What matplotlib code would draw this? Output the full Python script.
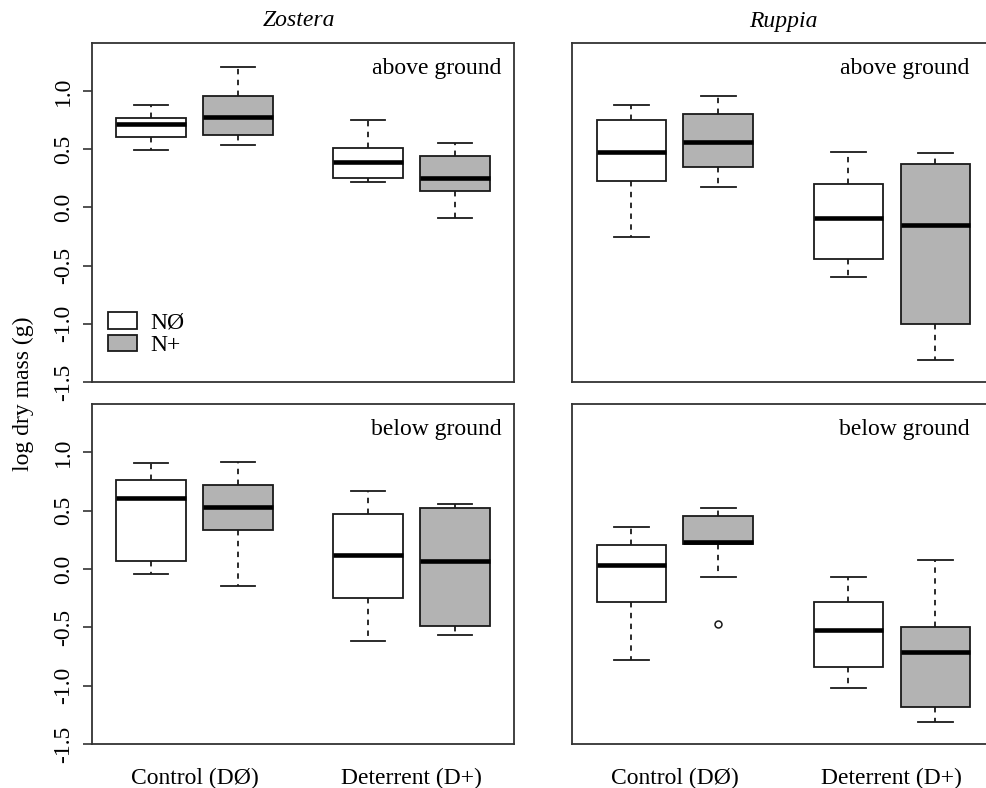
"""Zostera / Ruppia dry mass boxplots, N and deterrent treatments."""
import matplotlib

matplotlib.use("Agg")
import matplotlib.pyplot as plt
from matplotlib.patches import Patch

plt.rcParams["font.family"] = ["Liberation Serif", "DejaVu Serif"]
plt.rcParams["axes.unicode_minus"] = False

# box order: Control NØ, Control N+, Deterrent NØ, Deterrent N+
POSITIONS = [1, 2, 3.5, 4.5]
FILLS = ["white", "#b3b3b3", "white", "#b3b3b3"]
GROUPS = ["Control (DØ)", "Deterrent (D+)"]
GROUP_AT = [1.5, 4.0]
Y_TICKS = [-1.5, -1.0, -0.5, 0.0, 0.5, 1.0]

# Zostera, above ground
za_lo = [0.49, 0.54, 0.22, -0.09]
za_q1 = [0.61, 0.62, 0.25, 0.14]
za_med = [0.72, 0.78, 0.39, 0.25]
za_q3 = [0.77, 0.96, 0.51, 0.445]
za_hi = [0.88, 1.21, 0.75, 0.555]
za_out = [[], [], [], []]

# Ruppia, above ground
ra_lo = [-0.25, 0.175, -0.60, -1.31]
ra_q1 = [0.23, 0.35, -0.44, -1.0]
ra_med = [0.48, 0.565, -0.09, -0.15]
ra_q3 = [0.75, 0.805, 0.205, 0.37]
ra_hi = [0.88, 0.96, 0.475, 0.465]
ra_out = [[], [], [], []]

# Zostera, below ground
zb_lo = [-0.045, -0.15, -0.62, -0.565]
zb_q1 = [0.065, 0.335, -0.25, -0.49]
zb_med = [0.61, 0.535, 0.12, 0.065]
zb_q3 = [0.765, 0.72, 0.47, 0.525]
zb_hi = [0.905, 0.915, 0.665, 0.555]
zb_out = [[], [], [], []]

# Ruppia, below ground
rb_lo = [-0.78, -0.065, -1.02, -1.31]
rb_q1 = [-0.28, 0.21, -0.84, -1.185]
rb_med = [0.035, 0.235, -0.52, -0.71]
rb_q3 = [0.205, 0.455, -0.28, -0.50]
rb_hi = [0.36, 0.52, -0.065, 0.075]
rb_out = [[], [-0.47], [], []]

LINE = "#1a1a1a"


def make_stats(lo, q1, med, q3, hi, out):
    return [
        dict(whislo=a, q1=b, med=c, q3=d, whishi=e, fliers=f)
        for a, b, c, d, e, f in zip(lo, q1, med, q3, hi, out)
    ]


def draw_panel(ax, stats, tag, tag_x, left_axis, bottom_axis):
    parts = ax.bxp(
        stats, positions=POSITIONS, widths=0.8, capwidths=0.4,
        patch_artist=True, showfliers=True,
        boxprops=dict(edgecolor=LINE, linewidth=1.3),
        medianprops=dict(color="black", linewidth=3.3, solid_capstyle="butt"),
        whiskerprops=dict(color=LINE, linewidth=1.3, linestyle=(0, (3, 3))),
        capprops=dict(color=LINE, linewidth=1.3),
        flierprops=dict(marker="o", markersize=5, markerfacecolor="none",
                        markeredgecolor=LINE, markeredgewidth=1.1),
    )
    for box, fill in zip(parts["boxes"], FILLS):
        box.set_facecolor(fill)

    ax.set_xlim(0.32, 5.18)
    ax.set_ylim(-1.5, 1.414)
    for sp in ax.spines.values():
        sp.set_color("#333333")
        sp.set_linewidth(1.3)

    ax.text(tag_x, 0.926, tag, transform=ax.transAxes, ha="right",
            va="center", fontsize=17)

    if left_axis:
        ax.set_yticks(Y_TICKS)
        ax.set_yticklabels([f"{v:.1f}" for v in Y_TICKS], rotation=90,
                           va="center")
        ax.tick_params(axis="y", length=6.5, width=1.2, pad=6.5,
                       labelsize=17, color="#333333")
    else:
        ax.set_yticks([])

    if bottom_axis:
        ax.set_xticks(GROUP_AT)
        ax.set_xticklabels(GROUPS)
        ax.tick_params(axis="x", length=0, pad=17, labelsize=17)
    else:
        ax.set_xticks([])


fig = plt.figure(figsize=(9.87, 7.88), dpi=100)
W, H = 987, 788


def add_axes(left, top, width, height):
    return fig.add_axes([left / W, 1 - (top + height) / H, width / W, height / H])


ax_za = add_axes(92, 43, 422, 339)
ax_ra = add_axes(572.3, 43, 422, 339)
ax_zb = add_axes(92, 404, 422, 340)
ax_rb = add_axes(572.3, 404, 422, 340)

draw_panel(ax_za, make_stats(za_lo, za_q1, za_med, za_q3, za_hi, za_out),
           "above ground", 0.971, True, False)
draw_panel(ax_ra, make_stats(ra_lo, ra_q1, ra_med, ra_q3, ra_hi, ra_out),
           "above ground", 0.942, False, False)
draw_panel(ax_zb, make_stats(zb_lo, zb_q1, zb_med, zb_q3, zb_hi, zb_out),
           "below ground", 0.971, True, True)
draw_panel(ax_rb, make_stats(rb_lo, rb_q1, rb_med, rb_q3, rb_hi, rb_out),
           "below ground", 0.942, False, True)

ax_za.text(0.49, 1 + 22 / 339, "Zostera", transform=ax_za.transAxes,
           ha="center", va="center", fontsize=17, style="italic")
ax_ra.text(0.5, 1 + 22 / 339, "Ruppia", transform=ax_ra.transAxes,
           ha="center", va="center", fontsize=17, style="italic")

fig.text(23 / W, 1 - 394 / H, "log dry mass (g)", rotation=90,
         ha="center", va="center", fontsize=17)

handles = [Patch(facecolor=c, edgecolor=LINE, linewidth=1.3) for c in FILLS[:2]]
ax_za.legend(handles, ["NØ", "N+"], loc="lower left",
             bbox_to_anchor=(0.037, 0.076), frameon=False, fontsize=17,
             handlelength=1.23, handleheight=0.7, handletextpad=0.6,
             labelspacing=0.05, borderpad=0, borderaxespad=0)

fig.savefig("out.png", dpi=100)
